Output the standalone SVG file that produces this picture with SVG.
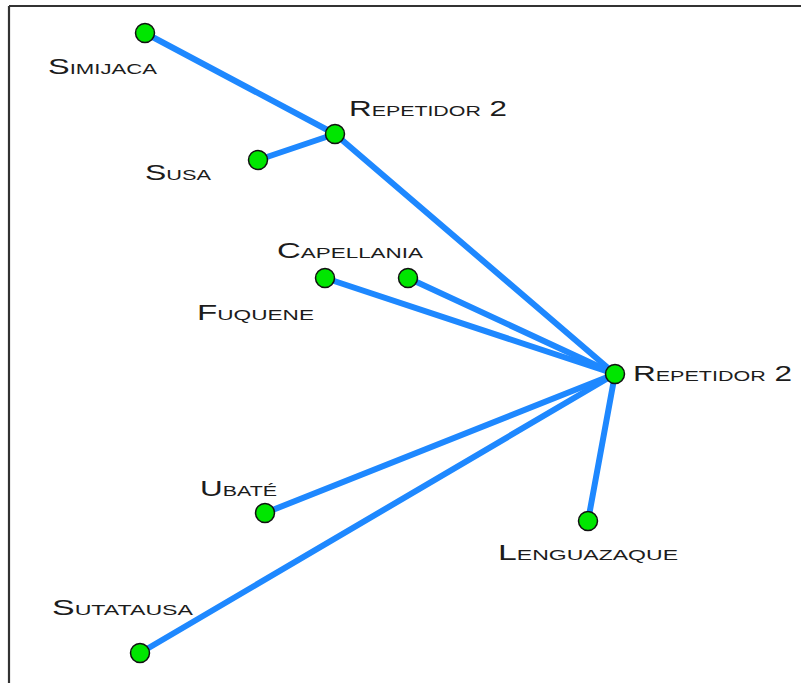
<svg xmlns="http://www.w3.org/2000/svg" width="801" height="683" viewBox="0 0 801 683">
<style>
.frame{stroke:#333;stroke-width:2.2;fill:none}
.edge{stroke:#1e88ff;stroke-width:6;stroke-linecap:round;fill:none}
.node{fill:#00e600;stroke:#111;stroke-width:1.5}
.lbl{font-family:"Liberation Sans",Arial,sans-serif;font-size:22px;font-variant:small-caps;fill:#1c1c1c}
</style>
<rect x="0" y="0" width="801" height="683" fill="#fff"/>
<g id="frame">
<line class="frame" x1="9" y1="6" x2="801" y2="6"/>
<line class="frame" x1="9" y1="6" x2="9" y2="683"/>
</g>
<g id="connectors">
<line class="edge" x1="145" y1="33" x2="335" y2="134"/>
<line class="edge" x1="258" y1="160" x2="335" y2="134"/>
<line class="edge" x1="335" y1="134" x2="615" y2="374"/>
<line class="edge" x1="325" y1="278" x2="615" y2="374"/>
<line class="edge" x1="408" y1="278" x2="615" y2="374"/>
<line class="edge" x1="265" y1="513" x2="615" y2="374"/>
<line class="edge" x1="140" y1="653" x2="615" y2="374"/>
<line class="edge" x1="588" y1="521" x2="615" y2="374"/>
</g>
<g id="simijaca"><circle class="node" cx="145" cy="33" r="9.5"/><text class="lbl" x="48" y="74" textLength="109" lengthAdjust="spacingAndGlyphs">Simijaca</text></g>
<g id="repetidor-2-top"><circle class="node" cx="335" cy="134" r="9.5"/><text class="lbl" x="349" y="116" textLength="158" lengthAdjust="spacingAndGlyphs">Repetidor 2</text></g>
<g id="susa"><circle class="node" cx="258" cy="160" r="9.5"/><text class="lbl" x="145" y="180" textLength="66" lengthAdjust="spacingAndGlyphs">Susa</text></g>
<g id="capellania"><circle class="node" cx="408" cy="278" r="9.5"/><text class="lbl" x="277" y="258" textLength="146" lengthAdjust="spacingAndGlyphs">Capellania</text></g>
<g id="fuquene"><circle class="node" cx="325" cy="278" r="9.5"/><text class="lbl" x="197" y="320" textLength="117" lengthAdjust="spacingAndGlyphs">Fuquene</text></g>
<g id="repetidor-2-right"><circle class="node" cx="615" cy="374" r="9.5"/><text class="lbl" x="633" y="381" textLength="159" lengthAdjust="spacingAndGlyphs">Repetidor 2</text></g>
<g id="ubate"><circle class="node" cx="265" cy="513" r="9.5"/><text class="lbl" x="200" y="496" textLength="77" lengthAdjust="spacingAndGlyphs">Ubaté</text></g>
<g id="lenguazaque"><circle class="node" cx="588" cy="521" r="9.5"/><text class="lbl" x="498" y="560" textLength="180" lengthAdjust="spacingAndGlyphs">Lenguazaque</text></g>
<g id="sutatausa"><circle class="node" cx="140" cy="653" r="9.5"/><text class="lbl" x="52" y="615" textLength="141" lengthAdjust="spacingAndGlyphs">Sutatausa</text></g>
</svg>
